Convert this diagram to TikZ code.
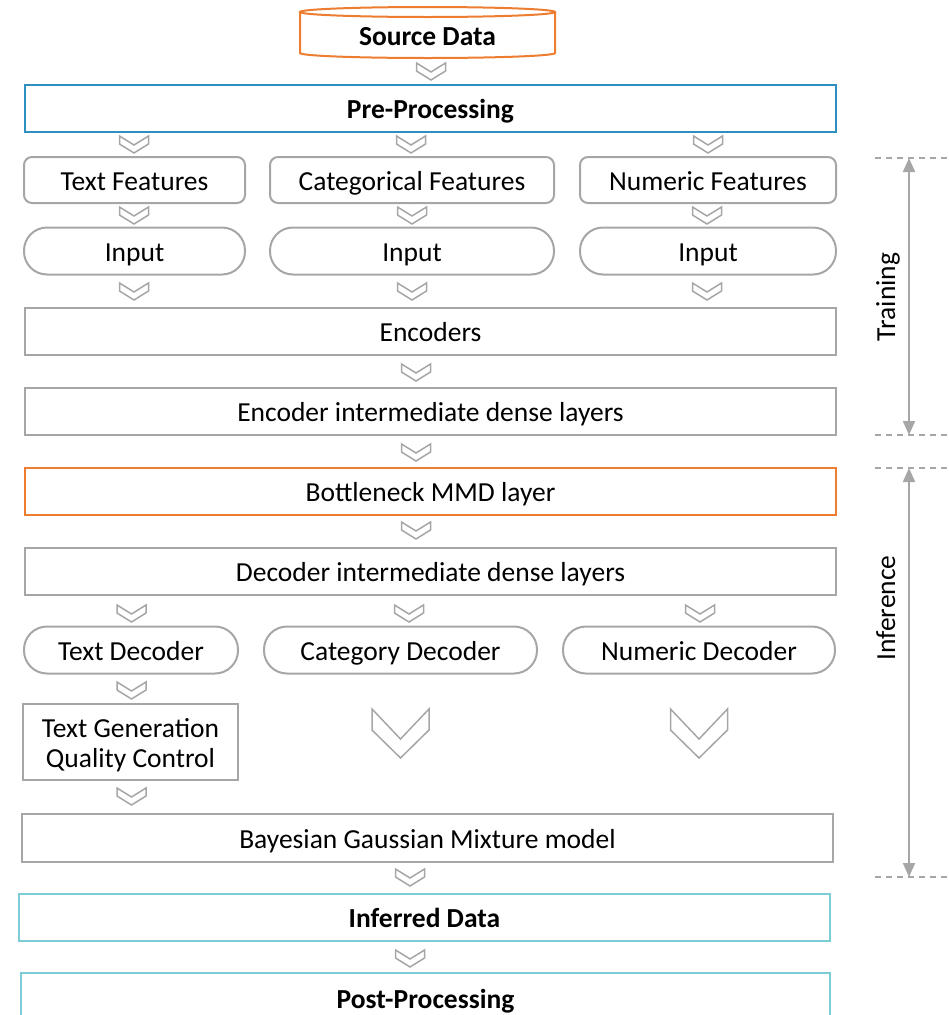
\documentclass[tikz,border=0pt]{standalone}
\usepackage{fontspec}
\setmainfont{Carlito}
\usetikzlibrary{arrows.meta}

\definecolor{edgegrey}{HTML}{A6A6A6}
\definecolor{srcorange}{HTML}{ED7D31}
\definecolor{preblue}{HTML}{2E8FC0}
\definecolor{outteal}{HTML}{7CCCD6}

\tikzset{
  lbl/.style={font=\fontsize{27.5pt}{30pt}\selectfont, text height=21pt, text depth=0.6pt, inner sep=0pt},
  boxbase/.style={draw=edgegrey, line width=2pt, rectangle, inner sep=0pt, minimum height=47pt},
  box/.style={boxbase, lbl},
  rbox/.style={box, rounded corners=8pt},
  pill/.style={box, rounded corners=23pt},
  head/.style={font=\fontsize{27.5pt}{30pt}\selectfont\bfseries},
  chevline/.style={draw=edgegrey, line width=1.5pt, line join=miter},
  guide/.style={draw=edgegrey, line width=1.5pt, dash pattern=on 6pt off 5pt},
  span/.style={draw=edgegrey, line width=2pt, {Triangle[width=12pt,length=14pt]}-{Triangle[width=12pt,length=14pt]}},
  smallchev/.pic={\draw[chevline] (-14.5,0) -- (0,9) -- (14.5,0) -- (14.5,8) -- (0,17) -- (-14.5,8) -- cycle;},
  bigchev/.pic={\draw[chevline] (-28.5,0) -- (0,30) -- (28.5,0) -- (28.5,21) -- (0,49) -- (-28.5,21) -- cycle;}
}

\begin{document}
\begin{tikzpicture}[x=1pt, y=-1pt]
\useasboundingbox (0,0) rectangle (949,1015);
\clip (0,0) rectangle (949,1015);

% source data store (cylinder)
\draw[draw=srcorange, line width=2pt]
  (300,12) -- (300,53) .. controls (300,55.8) and (357.1,58) .. (427.5,58)
  .. controls (497.9,58) and (555,55.8) .. (555,53) -- (555,12);
\draw[draw=srcorange, line width=2pt] (427.5,12) ellipse [x radius=127.5, y radius=5];
\node[lbl, head] (src) at (427.5,35) {Source Data};

% processing chain
\node[box, head, draw=preblue, minimum width=811pt] (pre) at (430.5,108) {Pre-Processing};

\node[rbox, minimum width=221pt, minimum height=46pt] (tf) at (134.5,180) {Text Features};
\node[rbox, minimum width=284pt, minimum height=46pt] (cf) at (412,180) {Categorical Features};
\node[rbox, minimum width=256pt, minimum height=46pt] (nf) at (708,180) {Numeric Features};

\node[pill, minimum width=221pt] (in1) at (134.5,251) {Input};
\node[pill, minimum width=284pt] (in2) at (412,251) {Input};
\node[pill, minimum width=256pt] (in3) at (708,251) {Input};

\node[box, minimum width=811pt] (enc) at (430.5,331) {Encoders};
\node[box, minimum width=811pt] (eid) at (430.5,411) {Encoder intermediate dense layers};
\node[box, draw=srcorange, minimum width=811pt] (bmmd) at (430.5,491) {Bottleneck MMD layer};
\node[box, minimum width=811pt] (did) at (430.5,571.5) {Decoder intermediate dense layers};

\node[pill, minimum width=214pt] (td) at (131,650) {Text Decoder};
\node[pill, minimum width=273pt] (cd) at (400.5,650) {Category Decoder};
\node[pill, minimum width=272pt] (nd) at (699,650) {Numeric Decoder};

\node[boxbase, minimum width=215pt, minimum height=76pt] (tgqc) at (130.5,742) {};
\node[inner sep=0pt, align=center, font=\fontsize{27.5pt}{30pt}\selectfont]
  (tgqctext) at ([yshift=-3pt]tgqc.center) {Text Generation\\Quality Control};

\node[box, minimum width=811pt, minimum height=48pt] (bgmm) at (427.5,838) {Bayesian Gaussian Mixture model};
\node[box, head, draw=outteal, minimum width=811pt] (inf) at (424.5,917.5) {Inferred Data};
\node[box, head, draw=outteal, minimum width=809pt, minimum height=50pt] (post) at (425.5,998) {Post-Processing};

% flow chevrons
\pic at (431,63) {smallchev};
\pic at (134,136) {smallchev};
\pic at (411,136) {smallchev};
\pic at (708,136) {smallchev};
\pic at (134,207) {smallchev};
\pic at (412,207) {smallchev};
\pic at (707,207) {smallchev};
\pic at (134,283) {smallchev};
\pic at (412,283) {smallchev};
\pic at (707,283) {smallchev};
\pic at (416,364) {smallchev};
\pic at (416,444) {smallchev};
\pic at (416,522) {smallchev};
\pic at (131.5,605) {smallchev};
\pic at (409,605) {smallchev};
\pic at (700,605) {smallchev};
\pic at (131.5,682) {smallchev};
\pic at (400.5,709) {bigchev};
\pic at (699,709) {bigchev};
\pic at (131.5,788) {smallchev};
\pic at (410,869) {smallchev};
\pic at (410,950) {smallchev};

% phase markers
\coordinate (trtop) at (909,158);
\coordinate (trbot) at (909,435);
\coordinate (intop) at (909,468);
\coordinate (inbot) at (909,877);
\draw[guide] (875,158) -- (949,158);
\draw[guide] (875,435) -- (949,435);
\draw[guide] (875,468) -- (949,468);
\draw[guide] (875,877) -- (949,877);
\draw[span] (trtop) -- (trbot);
\draw[span] (intop) -- (inbot);
\node[lbl, rotate=90] (train) at (885,297) {Training};
\node[lbl, rotate=90] (infer) at (885,608) {Inference};
\end{tikzpicture}
\end{document}
